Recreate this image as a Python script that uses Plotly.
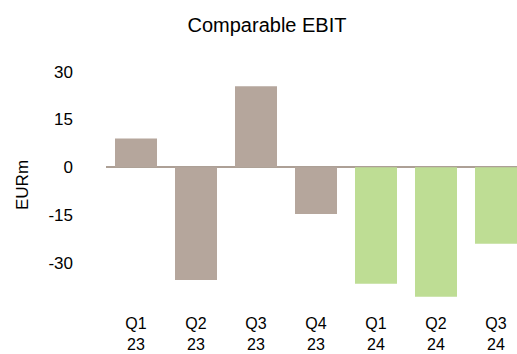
import plotly.graph_objects as go

quarters = ["Q1<br>23", "Q2<br>23", "Q3<br>23", "Q4<br>23", "Q1<br>24", "Q2<br>24", "Q3<br>24"]
ebit = [9.0, -35.4, 25.4, -14.7, -36.6, -40.7, -24.0]
bar_colors = ["#b5a69c", "#b5a69c", "#b5a69c", "#b5a69c", "#bedd94", "#bedd94", "#bedd94"]
y_ticks = [30, 15, 0, -15, -30]

fig = go.Figure(
    go.Bar(
        x=list(range(len(quarters))),
        y=ebit,
        marker=dict(color=bar_colors, line=dict(width=0)),
        width=0.7,
        hoverinfo="skip",
    )
)

FONT = "Liberation Sans, Arial, sans-serif"

fig.update_layout(
    width=517,
    height=354,
    margin=dict(l=106, r=0, t=62, b=53, autoexpand=False),
    paper_bgcolor="white",
    plot_bgcolor="white",
    showlegend=False,
    font=dict(family=FONT, size=17, color="#000000"),
    title=dict(
        text="Comparable EBIT",
        x=267 / 517,
        xanchor="center",
        y=1 - 25 / 354,
        yanchor="middle",
        font=dict(family=FONT, size=20, color="#000000"),
    ),
    xaxis=dict(
        range=[-0.5, 6.35],
        tickmode="array",
        tickvals=list(range(len(quarters))),
        ticktext=quarters,
        showgrid=False,
        zeroline=False,
        showline=False,
        ticks="",
        automargin=False,
        ticklabelstandoff=11,
        tickfont=dict(family=FONT, size=16),
    ),
    yaxis=dict(
        range=[-42, 33],
        tickmode="array",
        tickvals=y_ticks,
        ticktext=[str(v) for v in y_ticks],
        showgrid=False,
        zeroline=True,
        zerolinecolor="#ada096",
        zerolinewidth=2,
        showline=False,
        ticks="",
        automargin=False,
        ticklabelstandoff=32,
        tickfont=dict(family=FONT, size=17),
    ),
    annotations=[
        dict(
            text="EURm",
            xref="paper",
            yref="paper",
            x=(22 - 106) / 411,
            y=(301 - 185) / 239,
            xanchor="center",
            yanchor="middle",
            textangle=-90,
            showarrow=False,
            font=dict(family=FONT, size=17, color="#000000"),
        )
    ],
)

fig.write_html("out.html")
